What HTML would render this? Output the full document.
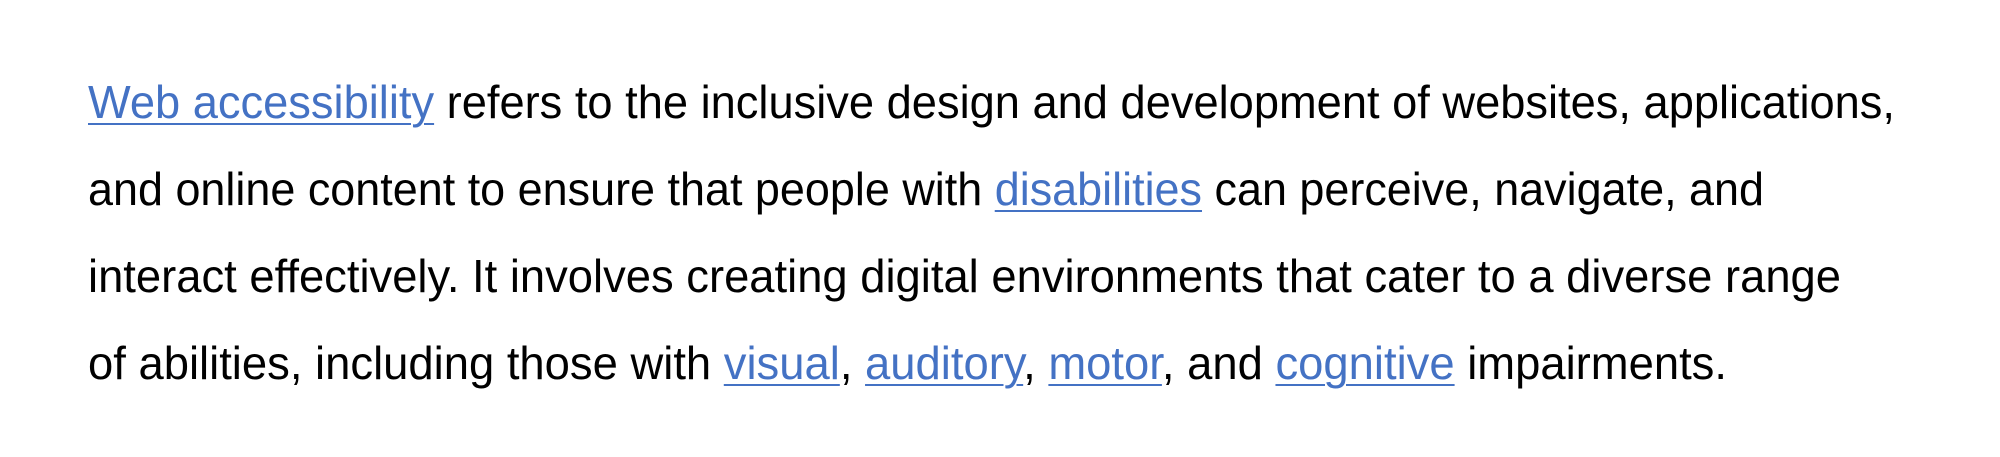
<!DOCTYPE html>
<html><head><meta charset="utf-8">
<style>
html,body{margin:0;padding:0;background:#fff;width:2000px;height:457px;overflow:hidden}
.p{position:absolute;left:88px;top:0}
.l{position:absolute;left:0;white-space:nowrap;font-family:"Liberation Sans",Arial,sans-serif;font-size:46px;color:#000;transform-origin:0 0;line-height:1}
a{color:#4472c4;text-decoration:underline;text-decoration-thickness:2px;text-underline-offset:5px}
</style></head><body>
<div class="p">
<div class="l" data-w="1807" style="top:79px"><a>Web accessibility</a> refers to the inclusive design and development of websites, applications,</div>
<div class="l" data-w="1676" style="top:166px">and online content to ensure that people with <a>disabilities</a> can perceive, navigate, and</div>
<div class="l" data-w="1753" style="top:253px">interact effectively. It involves creating digital environments that cater to a diverse range</div>
<div class="l" data-w="1639" style="top:340px">of abilities, including those with <a>visual</a>, <a>auditory</a>, <a>motor</a>, and <a>cognitive</a> impairments.</div>
</div>
<script>
document.querySelectorAll('.l').forEach(function(e){
  var w=e.getBoundingClientRect().width, t=+e.getAttribute('data-w');
  e.style.transform='scaleX('+(t/w)+')';
});
</script>
</body></html>
